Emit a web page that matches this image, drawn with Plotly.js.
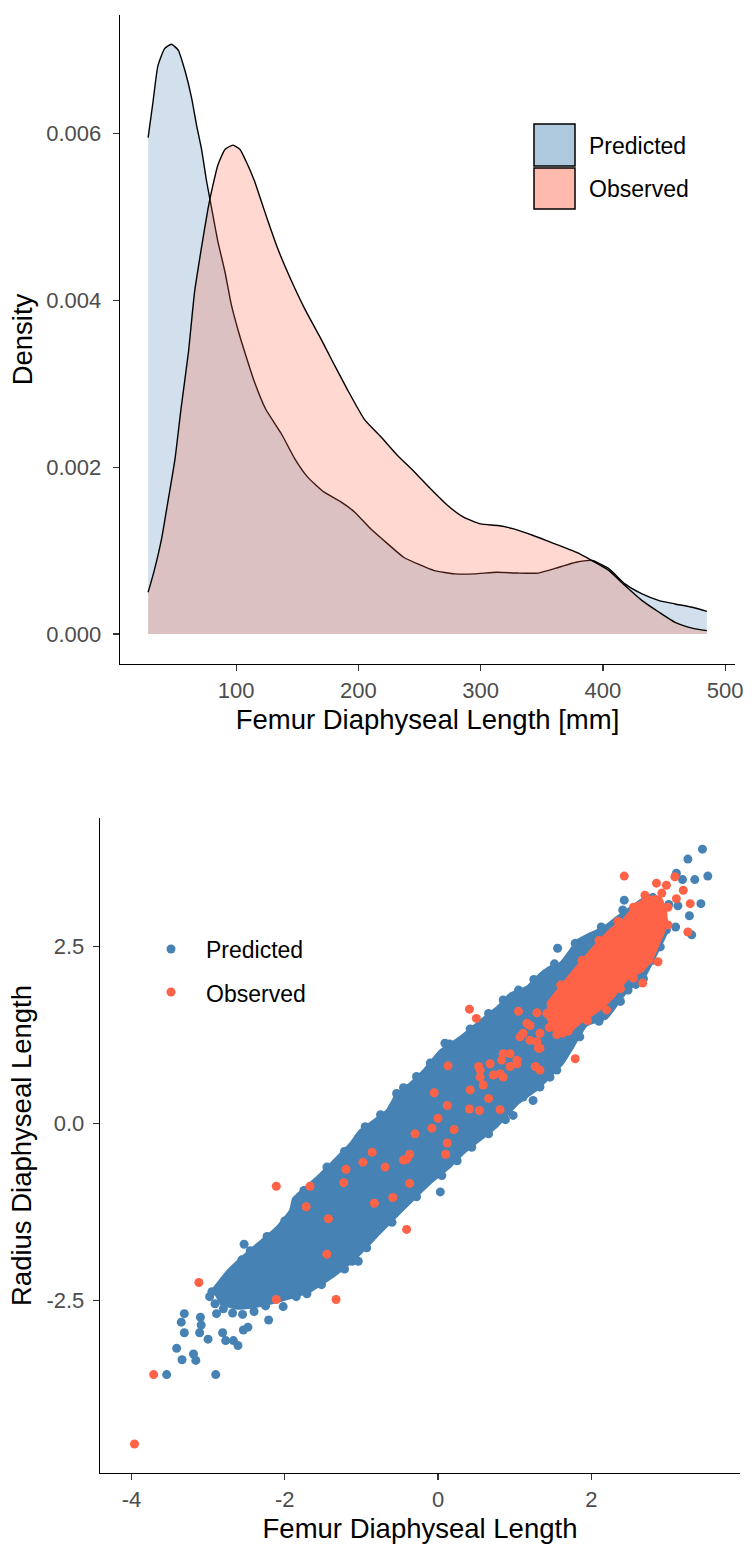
<!DOCTYPE html>
<html>
<head>
<meta charset="utf-8">
<script src="https://cdn.plot.ly/plotly-3.0.1.min.js"></script>
<style>html,body{margin:0;padding:0;background:#fff;}#chart{width:752px;height:1552px;}</style>
</head>
<body>
<div id="chart"></div>
<script>
// ---------- Top panel: density curves (x in mm, density) ----------
const predDensX = [28, 32, 36, 41.6, 47, 52.6, 58, 63.5, 67.6, 71.7, 75.8, 80, 85, 91, 96, 102, 107, 115, 124, 137, 148, 158.5, 172, 186, 197, 210, 224, 237, 250, 262, 279, 295, 313, 330, 347, 364, 378, 391, 405, 418, 432, 446, 459, 473, 485];
const predDensY = [0.00595, 0.00638, 0.00681, 0.00702, 0.00707, 0.00700, 0.00676, 0.00643, 0.00610, 0.00581, 0.00543, 0.00510, 0.00471, 0.00433, 0.00395, 0.00362, 0.00338, 0.00302, 0.00270, 0.00240, 0.00210, 0.00188, 0.00170, 0.00158, 0.00146, 0.00126, 0.00108, 0.00092, 0.00083, 0.00076, 0.00072, 0.00072, 0.00074, 0.00073, 0.00073, 0.00080, 0.00086, 0.00088, 0.00078, 0.00060, 0.00048, 0.00040, 0.00036, 0.00032, 0.00027];
const obsDensX = [28, 33, 39, 44, 50, 55, 61, 66, 71.5, 77, 81, 85, 91, 97.4, 103, 108, 115, 120.5, 126, 134, 145, 156, 170, 178, 191, 205, 218, 232, 246, 259, 273, 286, 300, 314, 327, 343, 357, 378, 391, 405, 418, 432, 446, 459, 473, 485];
const obsDensY = [0.00050, 0.00076, 0.00114, 0.00157, 0.00210, 0.00271, 0.00338, 0.00410, 0.00462, 0.00510, 0.00538, 0.00562, 0.00581, 0.00586, 0.00581, 0.00567, 0.00543, 0.00519, 0.00495, 0.00462, 0.00424, 0.00390, 0.00352, 0.00329, 0.00293, 0.00257, 0.00237, 0.00214, 0.00194, 0.00174, 0.00154, 0.00140, 0.00132, 0.00130, 0.00126, 0.00118, 0.00110, 0.00098, 0.00088, 0.00076, 0.00058, 0.00040, 0.00026, 0.00014, 0.00007, 0.00004];
const densTicks = [0, 0.002, 0.004, 0.006];
const mmTicks = [100, 200, 300, 400, 500];

// ---------- Bottom panel: scatter (standardised lengths) ----------
// dense core of the Predicted cloud (outline of the overlapping points)
const predCoreX = [-2.85,-2.62,-2.40,-2.02,-1.67,-1.37,-1.10,-0.76,-0.45,-0.10,0.16,0.33,0.55,0.77,1.05,1.30,1.46,1.63,1.74,1.94,2.20,2.29,2.48,2.68,2.90,3.00,2.95,2.81,2.64,2.46,2.33,2.16,1.98,1.81,1.72,1.59,1.46,1.33,1.16,0.94,0.77,0.55,0.29,0.03,-0.19,-0.37,-0.54,-0.67,-0.84,-1.02,-1.15,-1.32,-1.58,-1.89,-1.93,-2.10,-2.41,-2.56,-2.76,-2.95];
const predCoreY = [-2.55,-2.62,-2.60,-2.50,-2.38,-2.17,-1.94,-1.56,-1.22,-0.85,-0.62,-0.43,-0.24,-0.05,0.28,0.48,0.65,0.84,1.03,1.38,1.48,1.60,1.88,2.04,2.49,2.73,3.05,3.24,3.15,3.01,2.91,2.77,2.68,2.58,2.44,2.26,2.21,2.11,1.93,1.83,1.64,1.45,1.22,1.03,0.75,0.56,0.42,0.18,0.04,-0.10,-0.29,-0.48,-0.76,-1.06,-1.23,-1.46,-1.75,-1.89,-2.10,-2.36];
// individual Predicted points (edges and outliers)
const predX = [-3.54,-2.90,-3.34,-3.16,-3.41,-3.19,-3.31,-3.11,-3.00,-3.35,-3.31,-3.10,-3.09,-2.81,-2.77,-2.61,-2.67,-2.54,-2.48,-2.21,-2.53,-2.56,-1.12,-1.04,-2.23,-2.95,-2.91,-2.89,-2.71,-2.02,-1.71,-1.58,-1.32,
  -2.80,-2.68,-2.55,-2.98,-2.72,-2.40,
  0.03,0.09,-0.54,0.98,1.24,1.11,1.33,1.46,
  1.56,1.79,1.87,2.13,2.00,2.41,2.43,2.72,3.45,3.26,3.52,3.35,3.19,3.11,3.43,3.28,3.13,3.01,3.10,3.31,2.98,2.90,2.68,2.48,
  -2.45,-2.00,-1.75,-1.45,-1.22,-0.95,-0.75,-0.45,-0.28,-0.10,0.15,0.42,0.66,0.85,1.05,1.25,1.52,
  -2.25,-1.85,-1.52,-1.22,-0.93,-0.60,-0.28,0.05,0.25,0.44,0.66,0.88,1.55,1.85,2.10,2.38,2.58,2.80];
const predY = [-3.55,-3.55,-3.34,-3.35,-3.18,-3.26,-2.96,-2.96,-3.05,-2.81,-2.69,-2.74,-2.85,-2.96,-3.07,-3.14,-3.07,-2.92,-2.88,-2.78,-1.71,-1.93,-1.95,-1.95,-1.60,-2.38,-2.55,-2.69,-2.12,-2.59,-2.41,-2.24,-2.03,
  -2.62,-2.68,-2.70,-2.45,-2.50,-2.66,
  -0.97,1.13,0.42,0.11,0.32,0.37,0.51,0.65,
  2.47,2.54,2.49,2.77,2.63,3.01,3.15,3.13,3.87,3.73,3.49,3.44,3.44,3.53,3.10,2.93,3.07,3.09,2.77,2.66,2.73,2.49,2.04,1.88,
  -1.80,-1.38,-0.95,-0.62,-0.40,-0.05,0.12,0.50,0.66,0.85,1.12,1.33,1.55,1.74,1.88,2.03,2.25,
  -2.58,-2.45,-2.28,-2.06,-1.76,-1.40,-1.04,-0.74,-0.53,-0.34,-0.15,0.05,0.75,1.22,1.44,1.72,1.96,2.30];
// dense core of the Observed cluster
const obsCoreX = [1.42,1.77,2.03,2.24,2.41,2.59,2.77,2.90,2.98,2.96,2.90,2.81,2.68,2.46,2.29,2.11,1.85,1.63,1.50,1.42];
const obsCoreY = [1.69,2.16,2.49,2.73,2.87,3.10,3.20,3.20,2.96,2.73,2.58,2.35,2.16,2.02,1.78,1.60,1.41,1.22,1.31,1.50];
// individual Observed points
const obsX = [-3.96,-3.71,-3.12,-2.11,-1.33,-2.11,-1.67,-1.72,-1.20,-1.23,-0.98,-0.86,-0.83,-1.43,-1.45,-0.69,-0.45,-0.37,-0.30,-0.37,-0.59,-0.41,-0.41,
  -0.05,0.12,0.00,-0.08,0.21,0.12,0.10,0.13,0.41,0.50,0.42,0.59,0.66,0.81,0.54,0.41,0.55,0.68,0.81,0.85,1.03,0.94,0.53,0.55,0.72,0.85,1.03,1.27,1.33,
  1.05,1.29,1.16,1.07,1.20,1.31,0.94,0.83,1.20,1.33,1.11,1.29,1.33,1.79,2.20,
  2.43,2.85,2.98,3.09,3.20,3.29,3.11,3.26,2.87,2.67,1.42,1.45,1.55,1.70,1.95,2.38,2.55,2.75,1.60,1.88,2.10,2.35,2.55,2.70,2.92,3.00,3.00];
const obsY = [-4.53,-3.55,-2.25,-2.49,-2.49,-0.89,-0.89,-1.18,-0.65,-0.84,-0.55,-0.41,-1.13,-1.35,-1.85,-0.62,-0.52,-0.44,-0.15,-0.85,-1.05,-1.50,-0.51,
  0.43,0.25,0.07,-0.07,-0.09,-0.28,-0.44,0.81,1.61,1.48,0.47,0.54,0.35,0.19,0.18,0.20,0.75,0.84,0.70,0.98,0.89,0.80,0.80,0.65,0.68,0.65,0.84,0.80,0.75,
  1.58,1.56,1.41,1.22,1.17,1.06,0.98,0.89,1.38,1.27,1.27,1.15,1.06,0.91,1.60,
  3.49,3.39,3.36,3.48,3.29,3.10,3.17,2.70,2.28,1.98,1.55,1.35,1.25,1.30,1.45,1.90,2.05,2.30,1.95,2.30,2.58,2.85,3.05,3.22,3.25,3.05,2.80];
const zTicksX = [-4, -2, 0, 2];
const zTickTextX = ['-4', '-2', '0', '2'];
const zTicksY = [-2.5, 0, 2.5];
const zTickTextY = ['-2.5', '0.0', '2.5'];
const seriesNames = ['Predicted', 'Observed'];

// ---------- styling ----------
const W = 752, H = 1552;
const FONT = 'Liberation Sans, Arial, sans-serif';
const BLUE = '#4682B4', RED = '#FF6347';
const px = x => x / W, py = y => 1 - y / H;

const axisBase = {
  showline: true, linecolor: '#000', linewidth: 1.3, mirror: false,
  showgrid: false, zeroline: false,
  ticks: 'outside', ticklen: 6, tickwidth: 1.1, tickcolor: '#333',
  tickfont: {family: FONT, size: 22, color: '#4D4D4D'},
  automargin: false, fixedrange: true
};
const titleFont = {family: FONT, size: 27.5, color: '#000'};

const traces = [
  {x: predDensX, y: predDensY, type: 'scatter', mode: 'lines', fill: 'tozeroy',
   fillcolor: 'rgba(70,130,180,0.25)', line: {color: '#000', width: 1.4, shape: 'spline', smoothing: 0.5},
   xaxis: 'x', yaxis: 'y', name: seriesNames[0], hoverinfo: 'skip'},
  {x: obsDensX, y: obsDensY, type: 'scatter', mode: 'lines', fill: 'tozeroy',
   fillcolor: 'rgba(255,99,71,0.25)', line: {color: '#000', width: 1.4, shape: 'spline', smoothing: 0.5},
   xaxis: 'x', yaxis: 'y', name: seriesNames[1], hoverinfo: 'skip'},
  {x: predCoreX, y: predCoreY, type: 'scatter', mode: 'lines', fill: 'toself',
   fillcolor: BLUE, line: {color: BLUE, width: 2, shape: 'spline', smoothing: 0.4},
   xaxis: 'x2', yaxis: 'y2', name: seriesNames[0], hoverinfo: 'skip'},
  {x: predX, y: predY, type: 'scatter', mode: 'markers',
   marker: {color: BLUE, size: 9, line: {width: 0}},
   xaxis: 'x2', yaxis: 'y2', name: seriesNames[0]},
  {x: obsCoreX, y: obsCoreY, type: 'scatter', mode: 'lines', fill: 'toself',
   fillcolor: RED, line: {color: RED, width: 2, shape: 'spline', smoothing: 0.4},
   xaxis: 'x2', yaxis: 'y2', name: seriesNames[1], hoverinfo: 'skip'},
  {x: obsX, y: obsY, type: 'scatter', mode: 'markers',
   marker: {color: RED, size: 9, line: {width: 0}},
   xaxis: 'x2', yaxis: 'y2', name: seriesNames[1]}
];

const legendFont = {family: FONT, size: 23, color: '#000'};
const layout = {
  width: W, height: H,
  margin: {l: 0, r: 0, t: 0, b: 0},
  paper_bgcolor: '#fff', plot_bgcolor: '#fff',
  showlegend: false,
  xaxis: Object.assign({}, axisBase, {
    domain: [px(120), px(735)], anchor: 'y', range: [5, 508],
    tickvals: mmTicks,
    title: {text: 'Femur Diaphyseal Length [mm]', font: titleFont, standoff: 8}
  }),
  yaxis: Object.assign({}, axisBase, {
    domain: [py(664), py(15)], anchor: 'x', range: [-0.00036, 0.00742],
    tickvals: densTicks, tickformat: '.3f', ticklabelstandoff: 7,
    title: {text: 'Density', font: titleFont, standoff: 5}
  }),
  xaxis2: Object.assign({}, axisBase, {
    domain: [px(100), px(740)], anchor: 'y2', range: [-4.41, 3.94],
    tickvals: zTicksX, ticktext: zTickTextX,
    title: {text: 'Femur Diaphyseal Length', font: titleFont, standoff: 8}
  }),
  yaxis2: Object.assign({}, axisBase, {
    domain: [py(1473), py(818)], anchor: 'x2', range: [-4.94, 4.31],
    tickvals: zTicksY, ticktext: zTickTextY, ticklabelstandoff: 4,
    title: {text: 'Radius Diaphyseal Length', font: titleFont, standoff: 6}
  }),
  shapes: [
    {type: 'rect', xref: 'paper', yref: 'paper', x0: px(534), x1: px(575), y0: py(166), y1: py(124),
     fillcolor: '#AEC8DE', line: {color: '#000', width: 1.5}},
    {type: 'rect', xref: 'paper', yref: 'paper', x0: px(534), x1: px(575), y0: py(209), y1: py(168),
     fillcolor: '#FFBAAE', line: {color: '#000', width: 1.5}},
    {type: 'circle', xref: 'paper', yref: 'paper', x0: px(166.5), x1: px(175.5), y0: py(953.5), y1: py(944.5),
     fillcolor: BLUE, line: {width: 0}},
    {type: 'circle', xref: 'paper', yref: 'paper', x0: px(166.5), x1: px(175.5), y0: py(996.5), y1: py(987.5),
     fillcolor: RED, line: {width: 0}}
  ],
  annotations: [
    {xref: 'paper', yref: 'paper', x: px(587), y: py(146), xanchor: 'left', yanchor: 'middle',
     text: seriesNames[0], showarrow: false, font: legendFont},
    {xref: 'paper', yref: 'paper', x: px(587), y: py(189), xanchor: 'left', yanchor: 'middle',
     text: seriesNames[1], showarrow: false, font: legendFont},
    {xref: 'paper', yref: 'paper', x: px(204), y: py(950), xanchor: 'left', yanchor: 'middle',
     text: seriesNames[0], showarrow: false, font: legendFont},
    {xref: 'paper', yref: 'paper', x: px(204), y: py(994), xanchor: 'left', yanchor: 'middle',
     text: seriesNames[1], showarrow: false, font: legendFont}
  ]
};

Plotly.newPlot('chart', traces, layout, {staticPlot: true, displayModeBar: false});
</script>
</body>
</html>
